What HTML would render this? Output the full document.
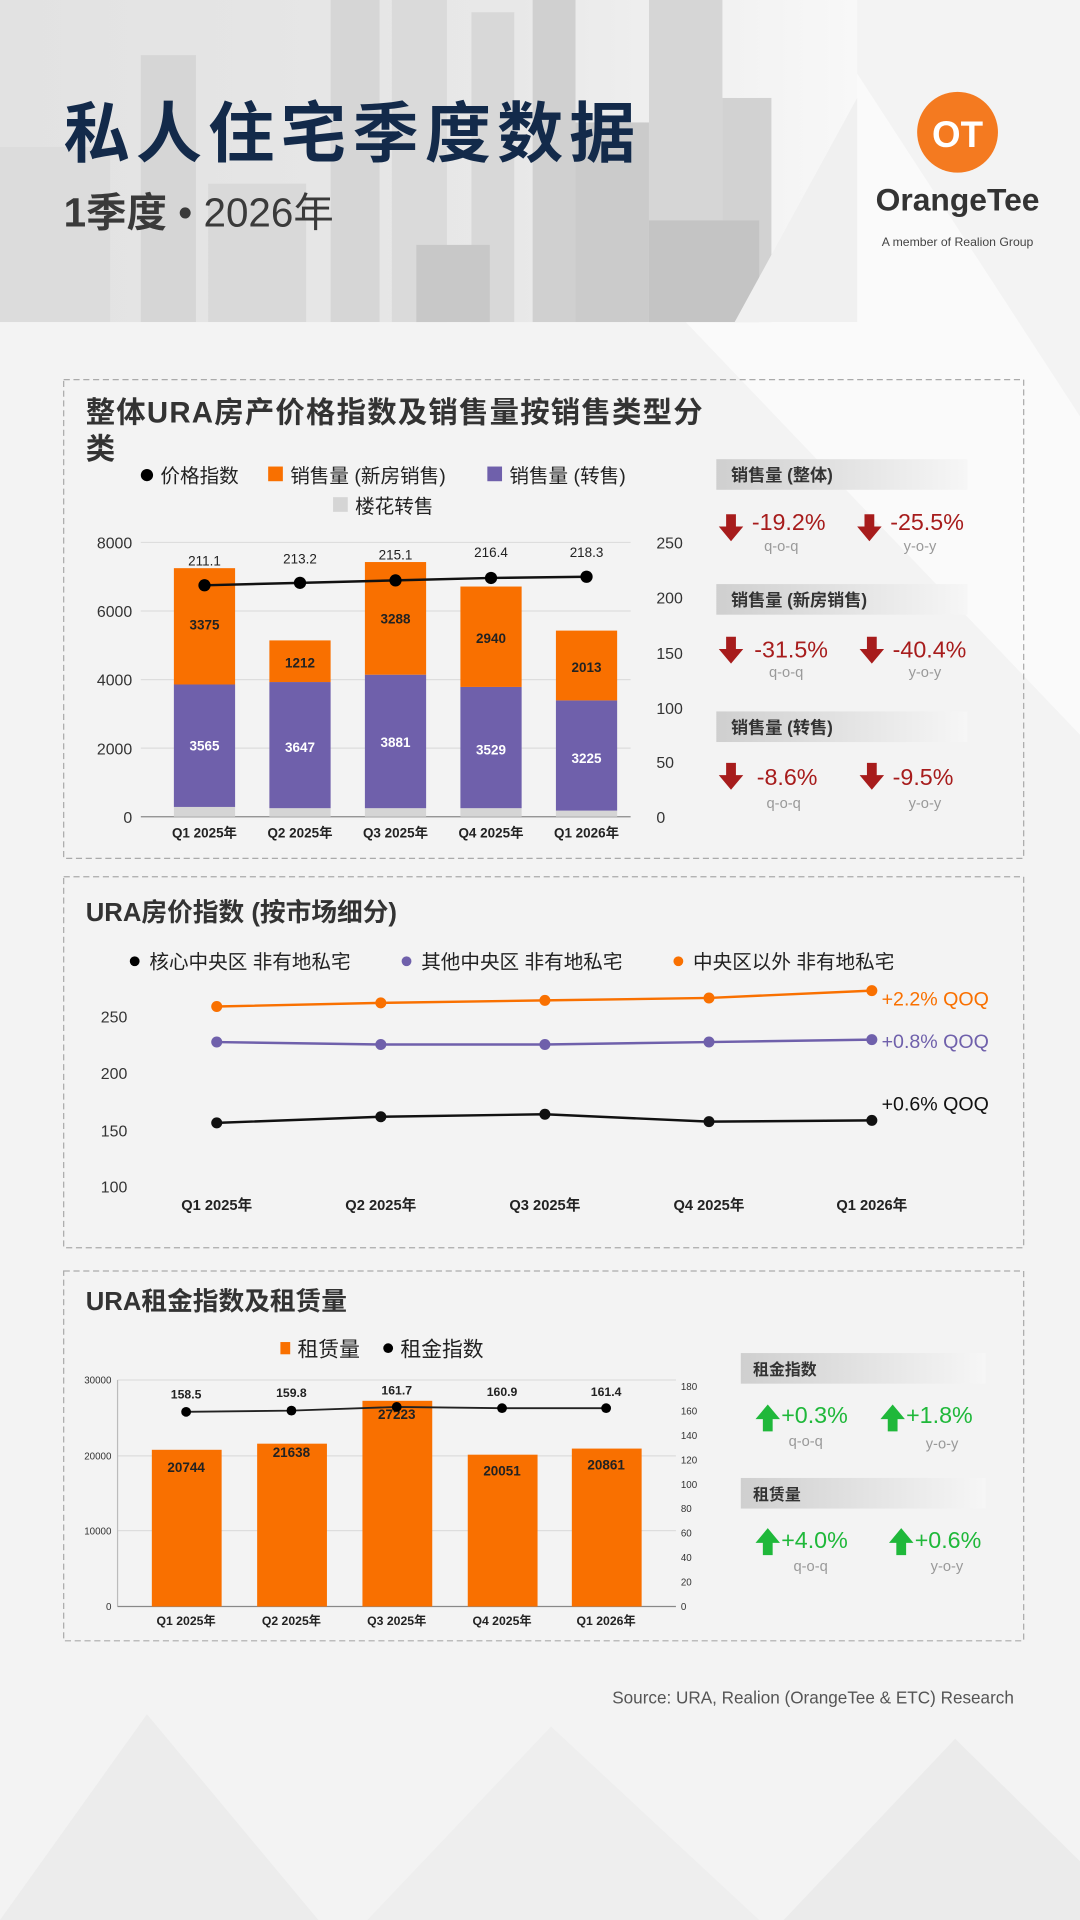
<!DOCTYPE html>
<html><head><meta charset="utf-8"><style>
html,body{margin:0;padding:0;background:#f4f4f4;}
svg{display:block;}
text{font-family:"Liberation Sans","Noto Sans CJK SC",sans-serif;}
</style></head><body>
<svg width="1080" height="1920" viewBox="0 0 882 1568" xmlns="http://www.w3.org/2000/svg">
<defs>
<linearGradient id="lab" x1="0" x2="1"><stop offset="0" stop-color="#cfcfcf"/><stop offset="1" stop-color="#f6f6f6"/></linearGradient>
<linearGradient id="top" x1="0" x2="1"><stop offset="0" stop-color="#e2e2e2"/><stop offset="0.6" stop-color="#e8e8e8"/><stop offset="1" stop-color="#f8f8f8"/></linearGradient>
<g id="dn"><path d="M-4,-10 L4,-10 L4,0 L10,0 L0,12 L-10,0 L-4,0 Z" fill="#a71c1c"/></g>
<g id="up"><path d="M-4,12 L4,12 L4,2 L10,2 L0,-10 L-10,2 L-4,2 Z" fill="#1fb83a"/></g>
</defs>
<rect width="882" height="1568" fill="#f3f3f3"/>
<polygon points="560,263 700,60 882,340 882,600" fill="#fafafa"/>
<polygon points="0,1568 120,1400 260,1568" fill="#ececec"/>
<polygon points="300,1568 450,1410 620,1568" fill="#eeeeee"/>
<polygon points="640,1568 780,1420 882,1520 882,1568" fill="#ebebeb"/>
<!-- header -->
<rect x="0" y="0" width="700" height="263" fill="url(#top)"/>
<g fill="#d6d6d6">
<rect x="115" y="45" width="45" height="218"/><rect x="270" y="0" width="40" height="263"/>
<rect x="320" y="0" width="45" height="263" fill="#dadada"/><rect x="385" y="10" width="35" height="253" fill="#d8d8d8"/>
<rect x="435" y="0" width="35" height="263" fill="#d0d0d0"/><rect x="470" y="100" width="60" height="163" fill="#cbcbcb"/>
<rect x="530" y="0" width="60" height="263" fill="#d6d6d6"/><rect x="590" y="80" width="40" height="183" fill="#d2d2d2"/>
<rect x="0" y="120" width="90" height="143" fill="#dcdcdc"/><rect x="170" y="150" width="80" height="113" fill="#d9d9d9"/>
<rect x="530" y="180" width="90" height="83" fill="#c4c4c4"/><rect x="340" y="200" width="60" height="63" fill="#c8c8c8"/>
</g>
<polygon points="600,263 700,80 700,263" fill="#f0f0f0"/>
<text x="52" y="128" font-size="54" font-weight="bold" fill="#132a4a" letter-spacing="5">私人住宅季度数据</text>
<text x="52" y="185" font-size="33" font-weight="bold" fill="#3a3a3a">1季度 <tspan font-weight="normal">• 2026年</tspan></text>
<circle cx="782" cy="108" r="33" fill="#f47a20"/>
<text x="782" y="120" font-size="30" font-weight="bold" fill="#fff" text-anchor="middle">OT</text>
<text x="782" y="172" font-size="26" font-weight="bold" fill="#333" text-anchor="middle">OrangeTee</text>
<text x="782" y="201" font-size="10" fill="#444" text-anchor="middle">A member of Realion Group</text>

<!-- panel 1 -->
<rect x="52" y="310" width="784" height="391" fill="none" stroke="#aaa" stroke-dasharray="5,3"/>
<text x="70" y="345" font-size="24" font-weight="bold" fill="#333" letter-spacing="1">整体URA房产价格指数及销售量按销售类型分</text>
<text x="70" y="375" font-size="24" font-weight="bold" fill="#333">类</text>
<circle cx="120" cy="388" r="5" fill="#000"/><text x="131" y="394" font-size="16" fill="#222">价格指数</text>
<rect x="219" y="381" width="12" height="12" fill="#f97000"/><text x="237" y="394" font-size="16" fill="#222">销售量 (新房销售)</text>
<rect x="398" y="381" width="12" height="12" fill="#6f60ab"/><text x="416" y="394" font-size="16" fill="#222">销售量 (转售)</text>
<rect x="272" y="406" width="12" height="12" fill="#d5d5d5"/><text x="290" y="419" font-size="16" fill="#222">楼花转售</text>
<g stroke="#ddd"><line x1="115" x2="515" y1="443" y2="443"/><line x1="115" x2="515" y1="499" y2="499"/><line x1="115" x2="515" y1="555" y2="555"/><line x1="115" x2="515" y1="611" y2="611"/></g>
<line x1="115" x2="515" y1="667" y2="667" stroke="#888"/>
<g font-size="13" fill="#333" text-anchor="end"><text x="108" y="448">8000</text><text x="108" y="504">6000</text><text x="108" y="560">4000</text><text x="108" y="616">2000</text><text x="108" y="672">0</text></g>
<g font-size="13" fill="#333"><text x="536" y="448">250</text><text x="536" y="493">200</text><text x="536" y="538">150</text><text x="536" y="583">100</text><text x="536" y="627">50</text><text x="536" y="672">0</text></g>
<g>
<rect x="142" y="659" width="50" height="8" fill="#d5d5d5"/><rect x="142" y="559" width="50" height="100" fill="#6f60ab"/><rect x="142" y="464" width="50" height="95" fill="#f97000"/>
<rect x="220" y="660" width="50" height="7" fill="#d5d5d5"/><rect x="220" y="557" width="50" height="103" fill="#6f60ab"/><rect x="220" y="523" width="50" height="34" fill="#f97000"/>
<rect x="298" y="660" width="50" height="7" fill="#d5d5d5"/><rect x="298" y="551" width="50" height="109" fill="#6f60ab"/><rect x="298" y="459" width="50" height="92" fill="#f97000"/>
<rect x="376" y="660" width="50" height="7" fill="#d5d5d5"/><rect x="376" y="561" width="50" height="99" fill="#6f60ab"/><rect x="376" y="479" width="50" height="82" fill="#f97000"/>
<rect x="454" y="662" width="50" height="5" fill="#d5d5d5"/><rect x="454" y="572" width="50" height="90" fill="#6f60ab"/><rect x="454" y="515" width="50" height="57" fill="#f97000"/>
</g>
<g font-size="11" font-weight="bold" text-anchor="middle" fill="#222"><text x="167" y="514">3375</text><text x="245" y="545">1212</text><text x="323" y="509">3288</text><text x="401" y="525">2940</text><text x="479" y="549">2013</text></g>
<g font-size="11" font-weight="bold" text-anchor="middle" fill="#fff"><text x="167" y="613">3565</text><text x="245" y="614">3647</text><text x="323" y="610">3881</text><text x="401" y="616">3529</text><text x="479" y="623">3225</text></g>
<polyline points="167,478 245,476 323,474 401,472 479,471" fill="none" stroke="#111" stroke-width="2"/>
<g fill="#000"><circle cx="167" cy="478" r="5"/><circle cx="245" cy="476" r="5"/><circle cx="323" cy="474" r="5"/><circle cx="401" cy="472" r="5"/><circle cx="479" cy="471" r="5"/></g>
<g font-size="11" text-anchor="middle" fill="#222"><text x="167" y="462">211.1</text><text x="245" y="460">213.2</text><text x="323" y="457">215.1</text><text x="401" y="455">216.4</text><text x="479" y="455">218.3</text></g>
<g font-size="11" font-weight="bold" text-anchor="middle" fill="#222"><text x="167" y="684">Q1 2025年</text><text x="245" y="684">Q2 2025年</text><text x="323" y="684">Q3 2025年</text><text x="401" y="684">Q4 2025年</text><text x="479" y="684">Q1 2026年</text></g>
<rect x="585" y="375" width="205" height="25" fill="url(#lab)"/><text x="597" y="393" font-size="14" font-weight="bold" fill="#333">销售量 (整体)</text>
<rect x="585" y="477" width="205" height="25" fill="url(#lab)"/><text x="597" y="495" font-size="14" font-weight="bold" fill="#333">销售量 (新房销售)</text>
<rect x="585" y="581" width="205" height="25" fill="url(#lab)"/><text x="597" y="599" font-size="14" font-weight="bold" fill="#333">销售量 (转售)</text>
<g font-size="19" fill="#a71c1c">
<use href="#dn" x="597" y="430"/><text x="614" y="433">-19.2%</text><use href="#dn" x="710" y="430"/><text x="727" y="433">-25.5%</text>
<use href="#dn" x="597" y="530"/><text x="616" y="537">-31.5%</text><use href="#dn" x="712" y="530"/><text x="729" y="537">-40.4%</text>
<use href="#dn" x="597" y="633"/><text x="618" y="641">-8.6%</text><use href="#dn" x="712" y="633"/><text x="729" y="641">-9.5%</text>
</g>
<g font-size="12" fill="#999"><text x="624" y="450">q-o-q</text><text x="738" y="450">y-o-y</text><text x="628" y="553">q-o-q</text><text x="742" y="553">y-o-y</text><text x="626" y="660">q-o-q</text><text x="742" y="660">y-o-y</text></g>

<!-- panel 2 -->
<rect x="52" y="716" width="784" height="303" fill="none" stroke="#aaa" stroke-dasharray="5,3"/>
<text x="70" y="752" font-size="21" font-weight="bold" fill="#333">URA房价指数 (按市场细分)</text>
<g font-size="16" fill="#222">
<circle cx="110" cy="785" r="4" fill="#000"/><text x="122" y="791">核心中央区 非有地私宅</text>
<circle cx="332" cy="785" r="4" fill="#6f60ab"/><text x="344" y="791">其他中央区 非有地私宅</text>
<circle cx="554" cy="785" r="4" fill="#f97000"/><text x="566" y="791">中央区以外 非有地私宅</text>
</g>
<g font-size="13" fill="#333" text-anchor="end"><text x="104" y="835">250</text><text x="104" y="881">200</text><text x="104" y="928">150</text><text x="104" y="974">100</text></g>
<polyline points="177,822 311,819 445,817 579,815 712,809" fill="none" stroke="#f97000" stroke-width="2"/>
<g fill="#f97000"><circle cx="177" cy="822" r="4.5"/><circle cx="311" cy="819" r="4.5"/><circle cx="445" cy="817" r="4.5"/><circle cx="579" cy="815" r="4.5"/><circle cx="712" cy="809" r="4.5"/></g>
<polyline points="177,851 311,853 445,853 579,851 712,849" fill="none" stroke="#6f60ab" stroke-width="2"/>
<g fill="#6f60ab"><circle cx="177" cy="851" r="4.5"/><circle cx="311" cy="853" r="4.5"/><circle cx="445" cy="853" r="4.5"/><circle cx="579" cy="851" r="4.5"/><circle cx="712" cy="849" r="4.5"/></g>
<polyline points="177,917 311,912 445,910 579,916 712,915" fill="none" stroke="#111" stroke-width="2"/>
<g fill="#111"><circle cx="177" cy="917" r="4.5"/><circle cx="311" cy="912" r="4.5"/><circle cx="445" cy="910" r="4.5"/><circle cx="579" cy="916" r="4.5"/><circle cx="712" cy="915" r="4.5"/></g>
<text x="720" y="821" font-size="16" fill="#f97000">+2.2% QOQ</text>
<text x="720" y="856" font-size="16" fill="#6f60ab">+0.8% QOQ</text>
<text x="720" y="907" font-size="16" fill="#111">+0.6% QOQ</text>
<g font-size="12" font-weight="bold" text-anchor="middle" fill="#222"><text x="177" y="988">Q1 2025年</text><text x="311" y="988">Q2 2025年</text><text x="445" y="988">Q3 2025年</text><text x="579" y="988">Q4 2025年</text><text x="712" y="988">Q1 2026年</text></g>

<!-- panel 3 -->
<rect x="52" y="1038" width="784" height="302" fill="none" stroke="#aaa" stroke-dasharray="5,3"/>
<text x="70" y="1070" font-size="21" font-weight="bold" fill="#333">URA租金指数及租赁量</text>
<rect x="229" y="1096" width="8" height="10" fill="#f97000"/><text x="243" y="1108" font-size="17" fill="#222">租赁量</text>
<circle cx="317" cy="1101" r="4" fill="#000"/><text x="327" y="1108" font-size="17" fill="#222">租金指数</text>
<g stroke="#ddd"><line x1="96" x2="552" y1="1127" y2="1127"/><line x1="96" x2="552" y1="1189" y2="1189"/><line x1="96" x2="552" y1="1250" y2="1250"/></g>
<line x1="96" x2="96" y1="1127" y2="1312" stroke="#bbb"/>
<line x1="96" x2="552" y1="1312" y2="1312" stroke="#888"/>
<g font-size="8" fill="#333" text-anchor="end"><text x="91" y="1130">30000</text><text x="91" y="1192">20000</text><text x="91" y="1253">10000</text><text x="91" y="1315">0</text></g>
<g font-size="8" fill="#333"><text x="556" y="1135">180</text><text x="556" y="1155">160</text><text x="556" y="1175">140</text><text x="556" y="1195">120</text><text x="556" y="1215">100</text><text x="556" y="1235">80</text><text x="556" y="1255">60</text><text x="556" y="1275">40</text><text x="556" y="1295">20</text><text x="556" y="1315">0</text></g>
<g fill="#f97000"><rect x="124" y="1184" width="57" height="128"/><rect x="210" y="1179" width="57" height="133"/><rect x="296" y="1144" width="57" height="168"/><rect x="382" y="1188" width="57" height="124"/><rect x="467" y="1183" width="57" height="129"/></g>
<g font-size="11" font-weight="bold" text-anchor="middle" fill="#222"><text x="152" y="1202">20744</text><text x="238" y="1190">21638</text><text x="324" y="1159">27223</text><text x="410" y="1205">20051</text><text x="495" y="1200">20861</text></g>
<polyline points="152,1153 238,1152 324,1149 410,1150 495,1150" fill="none" stroke="#222" stroke-width="1.5"/>
<g fill="#000"><circle cx="152" cy="1153" r="4"/><circle cx="238" cy="1152" r="4"/><circle cx="324" cy="1149" r="4"/><circle cx="410" cy="1150" r="4"/><circle cx="495" cy="1150" r="4"/></g>
<g font-size="10" font-weight="bold" text-anchor="middle" fill="#222"><text x="152" y="1142">158.5</text><text x="238" y="1141">159.8</text><text x="324" y="1139">161.7</text><text x="410" y="1140">160.9</text><text x="495" y="1140">161.4</text></g>
<g font-size="10" font-weight="bold" text-anchor="middle" fill="#222"><text x="152" y="1327">Q1 2025年</text><text x="238" y="1327">Q2 2025年</text><text x="324" y="1327">Q3 2025年</text><text x="410" y="1327">Q4 2025年</text><text x="495" y="1327">Q1 2026年</text></g>
<rect x="605" y="1105" width="200" height="25" fill="url(#lab)"/><text x="615" y="1123" font-size="13" font-weight="bold" fill="#333">租金指数</text>
<rect x="605" y="1207" width="200" height="25" fill="url(#lab)"/><text x="615" y="1225" font-size="13" font-weight="bold" fill="#333">租赁量</text>
<g font-size="19" fill="#1fb83a">
<use href="#up" x="627" y="1157"/><text x="638" y="1162">+0.3%</text><use href="#up" x="729" y="1157"/><text x="740" y="1162">+1.8%</text>
<use href="#up" x="627" y="1258"/><text x="638" y="1264">+4.0%</text><use href="#up" x="736" y="1258"/><text x="747" y="1264">+0.6%</text>
</g>
<g font-size="12" fill="#999"><text x="644" y="1181">q-o-q</text><text x="756" y="1183">y-o-y</text><text x="648" y="1283">q-o-q</text><text x="760" y="1283">y-o-y</text></g>
<text x="828" y="1391" font-size="14" fill="#555" text-anchor="end">Source: URA, Realion (OrangeTee &amp; ETC) Research</text>
</svg>
</body></html>
